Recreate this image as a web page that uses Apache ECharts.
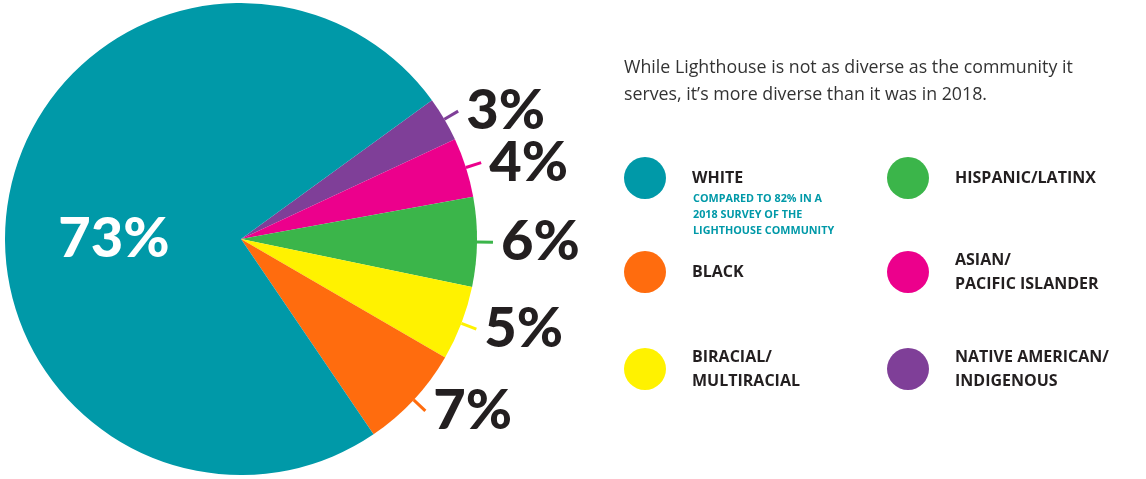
<!DOCTYPE html>
<html>
<head>
<meta charset="utf-8">
<script src="https://cdn.jsdelivr.net/npm/echarts@6/dist/echarts.min.js"></script>
<style>
  html, body { margin: 0; padding: 0; background: #fff; }
  #chart { width: 1146px; height: 479px; }
</style>
</head>
<body>
<div id="chart"></div>
<script>
// Data (clockwise from the top of the coloured wedge group)
const categories = ['NATIVE AMERICAN/ INDIGENOUS', 'ASIAN/ PACIFIC ISLANDER', 'HISPANIC/LATINX', 'BIRACIAL/ MULTIRACIAL', 'BLACK', 'WHITE'];
const values = [3, 4, 6, 5, 7, 73];
const colors = ['#7F3F98', '#EC008C', '#3BB54A', '#FFF200', '#FF6C0E', '#0099A8'];
const legendLeft = ['WHITE', 'BLACK', 'BIRACIAL/ MULTIRACIAL'];
const legendRight = ['HISPANIC/LATINX', 'ASIAN/ PACIFIC ISLANDER', 'NATIVE AMERICAN/ INDIGENOUS'];
const titleText = 'While Lighthouse is not as diverse as the community it\nserves, it\u2019s more diverse than it was in 2018.';
const whiteNote = 'COMPARED TO 82% IN A\n2018 SURVEY OF THE\nLIGHTHOUSE COMMUNITY';

const chart = echarts.init(document.getElementById('chart'), null, { renderer: 'canvas' });

const legendText = {
  fontFamily: 'Open Sans',
  fontWeight: 'bold',
  fontSize: 16,
  color: '#231F20',
  lineHeight: 24,
  padding: [0, 0, 0, 21]
};
const fmt = n => n.replace('/ ', '/\n');

const data = categories.map((c, i) => {
  const d = { name: c, value: values[i], itemStyle: { color: colors[i] } };
  if (c === 'WHITE') {
    d.label = { position: 'inside', color: '#ffffff' };
    d.labelLine = { show: false };
  }
  return d;
});

chart.setOption({
  animation: false,
  title: [
    {
      text: titleText,
      left: 624, top: 54,
      padding: 0,
      textStyle: { fontFamily: 'Open Sans', fontWeight: 'normal', fontSize: 17.8, color: '#333333', lineHeight: 27 }
    },
    {
      text: whiteNote,
      left: 693, top: 191,
      padding: 0,
      textStyle: { fontFamily: 'Open Sans', fontWeight: 'bold', fontSize: 10.8, color: '#0099A8', lineHeight: 16 }
    }
  ],
  legend: [
    {
      data: legendLeft, orient: 'vertical', left: 624, top: 157, padding: 0,
      icon: 'circle', itemWidth: 42, itemHeight: 42, itemGap: 52,
      selectedMode: false, formatter: fmt, textStyle: legendText
    },
    {
      data: legendRight, orient: 'vertical', left: 887, top: 157, padding: 0,
      icon: 'circle', itemWidth: 42, itemHeight: 42, itemGap: 49,
      selectedMode: false, formatter: fmt, textStyle: legendText
    }
  ],
  series: [{
    type: 'pie',
    center: [241, 239],
    radius: [0, 236],
    startAngle: 36,
    clockwise: true,
    avoidLabelOverlap: false,
    emphasis: { disabled: true },
    label: {
      show: true,
      position: 'outside',
      formatter: '{c}%',
      fontFamily: 'Lato',
      fontWeight: 900,
      fontSize: 56,
      lineHeight: 40,
      color: '#231F20',
      distanceToLabelLine: 8
    },
    labelLine: {
      show: true,
      length: 16,
      length2: 0,
      lineStyle: { width: 3 }
    },
    labelLayout: function (p) {
      if (p.dataIndex === 5) {
        return { hideOverlap: false, dx: -8, dy: 21 };
      }
      return { hideOverlap: false };
    },
    data: data
  }]
});
</script>
</body>
</html>
